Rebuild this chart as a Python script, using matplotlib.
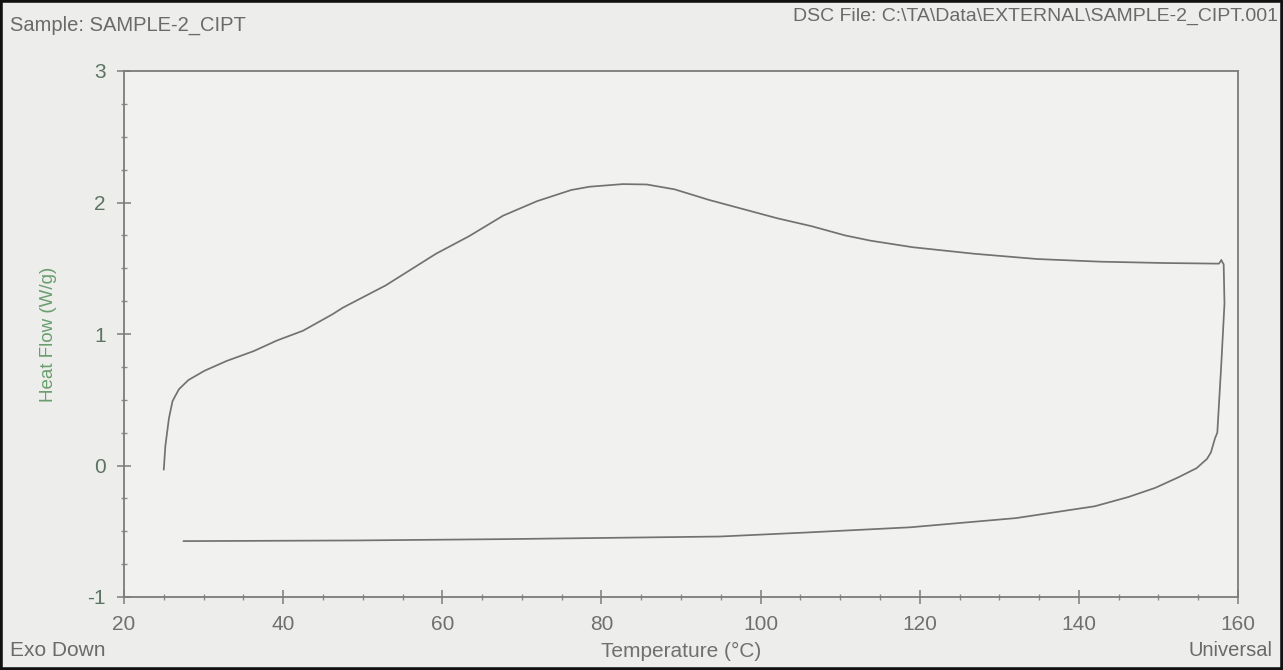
import matplotlib.pyplot as plt
from matplotlib.ticker import MultipleLocator
from matplotlib.patches import Rectangle

plt.rcParams['font.family'] = ['Liberation Sans', 'DejaVu Sans']
plt.rcParams['axes.unicode_minus'] = False

# heating run (deg C, W/g)
heat_temp = [25.0, 25.2, 25.65, 26.1, 26.9, 28.1, 30.1, 32.9, 36.3, 39.2, 42.5, 46.2,
             47.5, 52.9, 59.2, 63.4, 67.65, 71.9, 76.2, 78.5, 82.7, 85.7, 89.2,
             93.5, 97.8, 102.1, 106.4, 110.6, 113.8, 119.1, 126.9, 134.8, 142.7,
             150.5, 157.6, 157.9]
heat_flow = [-0.03, 0.15, 0.36, 0.49, 0.58, 0.65, 0.72, 0.795, 0.87, 0.95, 1.025, 1.15,
             1.20, 1.37, 1.61, 1.745, 1.90, 2.01, 2.095, 2.12, 2.14, 2.137, 2.10,
             2.02, 1.95, 1.88, 1.82, 1.75, 1.71, 1.66, 1.61, 1.57, 1.55,
             1.54, 1.535, 1.56]

# cooling run back down
cool_temp = [157.9, 158.2, 158.3, 157.9, 157.4, 157.1, 156.6, 156.1, 154.8, 152.5,
             149.6, 146.2, 142.0, 132.1, 118.8, 105.6, 94.9, 67.6, 49.1, 27.5]
cool_flow = [1.56, 1.53, 1.23, 0.77, 0.25, 0.205, 0.10, 0.05, -0.02, -0.09,
             -0.17, -0.24, -0.31, -0.40, -0.47, -0.51, -0.54, -0.56, -0.57, -0.575]

x_ticks = [20, 40, 60, 80, 100, 120, 140, 160]
y_ticks = [-1, 0, 1, 2, 3]

W, H = 1283, 670
bg = '#ededeb'
fig = plt.figure(figsize=(W / 100, H / 100), dpi=100, facecolor=bg)
ax = fig.add_axes([124 / W, 73 / H, 1114 / W, 526 / H], facecolor='#f1f1ef')

line_col = '#727272'
ax.plot(heat_temp, heat_flow, color=line_col, lw=1.25)
ax.plot(cool_temp, cool_flow, color=line_col, lw=1.25)

ax.set_xlim(20, 160)
ax.set_ylim(-1, 3)
ax.set_xticks(x_ticks)
ax.set_yticks(y_ticks)
ax.xaxis.set_minor_locator(MultipleLocator(5))
ax.yaxis.set_minor_locator(MultipleLocator(0.25))

for s in ax.spines.values():
    s.set_color('#7c7c7c')
    s.set_linewidth(1.3)

ax.tick_params(axis='both', which='major', direction='inout', length=10,
               width=1.1, color='#7c7c7c', labelsize=15)
ax.tick_params(axis='both', which='minor', direction='inout', length=5,
               width=1.0, color='#8c8c8c')
ax.tick_params(axis='x', labelcolor='#707070', pad=8)
ax.tick_params(axis='y', labelcolor='#5d7464', pad=8)

ax.set_xlabel('Temperature (°C)', fontsize=15, color='#707070', labelpad=6)
ax.set_ylabel('Heat Flow (W/g)', fontsize=13.5, color='#6a9e6e', labelpad=22)

# header and footer captions
fig.text(10 / W, 1 - 25 / H, 'Sample: SAMPLE-2_CIPT', fontsize=14.5,
         color='#6a6a6a', va='center', ha='left')
fig.text(1278 / W, 1 - 16 / H, 'DSC File: C:\\TA\\Data\\EXTERNAL\\SAMPLE-2_CIPT.001',
         fontsize=14, color='#6a6a6a', va='center', ha='right')
fig.text(10 / W, 1 - 650 / H, 'Exo Down', fontsize=15, color='#6a6a6a',
         va='center', ha='left')
fig.text(1272 / W, 1 - 650 / H, 'Universal', fontsize=14.5, color='#6a6a6a',
         va='center', ha='right')

# dark frame around the screen
fig.patches.append(Rectangle((0, 0), 1, 1, transform=fig.transFigure,
                             fill=False, edgecolor='#111111', lw=4))

fig.savefig('out.png', dpi=100, facecolor=fig.get_facecolor())
